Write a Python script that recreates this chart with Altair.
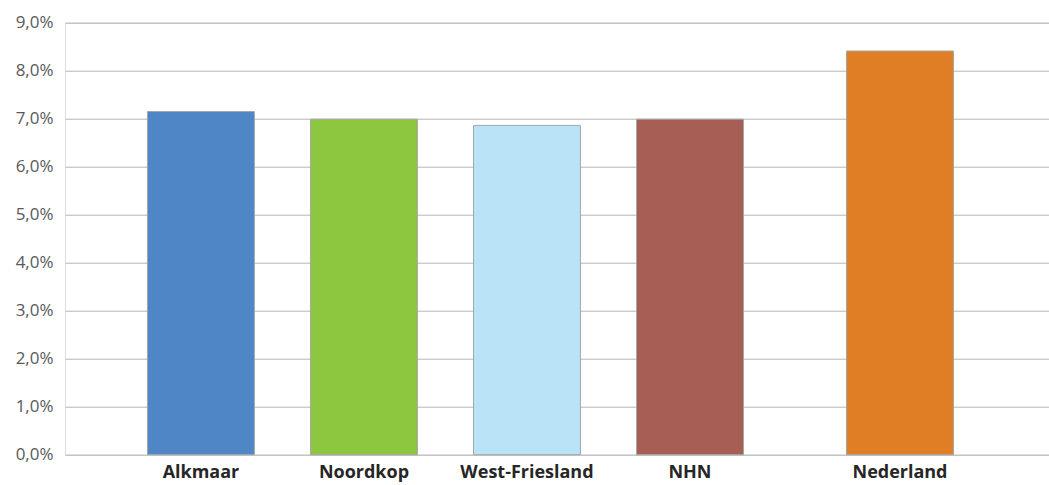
import altair as alt
import pandas as pd

regions = ["Alkmaar", "Noordkop", "West-Friesland", "NHN", "Nederland"]
shares = [0.0715, 0.0699, 0.0686, 0.0699, 0.0841]
colors = ["#4f86c6", "#8dc63f", "#b9e4f8", "#a65e55", "#e07e26"]

df = pd.DataFrame({"region": regions, "share": shares})

GAP = 47  # extra space before the national bar
label_offset = f"datum.value == 'Nederland' ? {GAP} : 0"

x = alt.X(
    "region:N",
    sort=regions,
    title=None,
    scale=alt.Scale(paddingInner=0.344, paddingOuter=0.69, align=0.3665),
    axis=alt.Axis(
        labelAngle=0,
        domain=False,
        ticks=False,
        grid=False,
        labelFont="Open Sans",
        labelFontWeight="bold",
        labelFontSize=18,
        labelColor="#262626",
        labelPadding=9,
        labelOffset=alt.ExprRef(label_offset),
    ),
)
y = alt.Y(
    "share:Q",
    title=None,
    scale=alt.Scale(domain=[0, 0.09], nice=False),
    axis=alt.Axis(
        values=[i / 100 for i in range(10)],
        labelExpr="replace(format(datum.value, '.1%'), '.', ',')",
        domain=False,
        ticks=False,
        gridColor="#b3b3b3",
        gridWidth=1,
        labelFont="Open Sans",
        labelFontSize=17,
        labelColor="#595959",
        labelPadding=12,
    ),
)
color = alt.Color(
    "region:N", sort=regions, scale=alt.Scale(domain=regions, range=colors), legend=None
)

base = alt.Chart(df)
bars = base.transform_filter(alt.datum.region != "Nederland").mark_bar(
    stroke="#a6a6a6", strokeWidth=1
).encode(x=x, y=y, color=color)
nl_bar = base.transform_filter(alt.datum.region == "Nederland").mark_bar(
    stroke="#a6a6a6", strokeWidth=1, xOffset=GAP
).encode(x=x, y=y, color=color)

chart = (
    alt.layer(bars, nl_bar)
    .properties(
        width=984,
        height=432,
        autosize=alt.AutoSizeParams(type="none"),
        padding={"left": 65, "top": 22.7, "right": 0, "bottom": 30},
    )
    .configure_view(strokeWidth=0)
    .configure(background="white")
)

chart.save("out.html", embed_options={"renderer": "svg", "actions": False})
